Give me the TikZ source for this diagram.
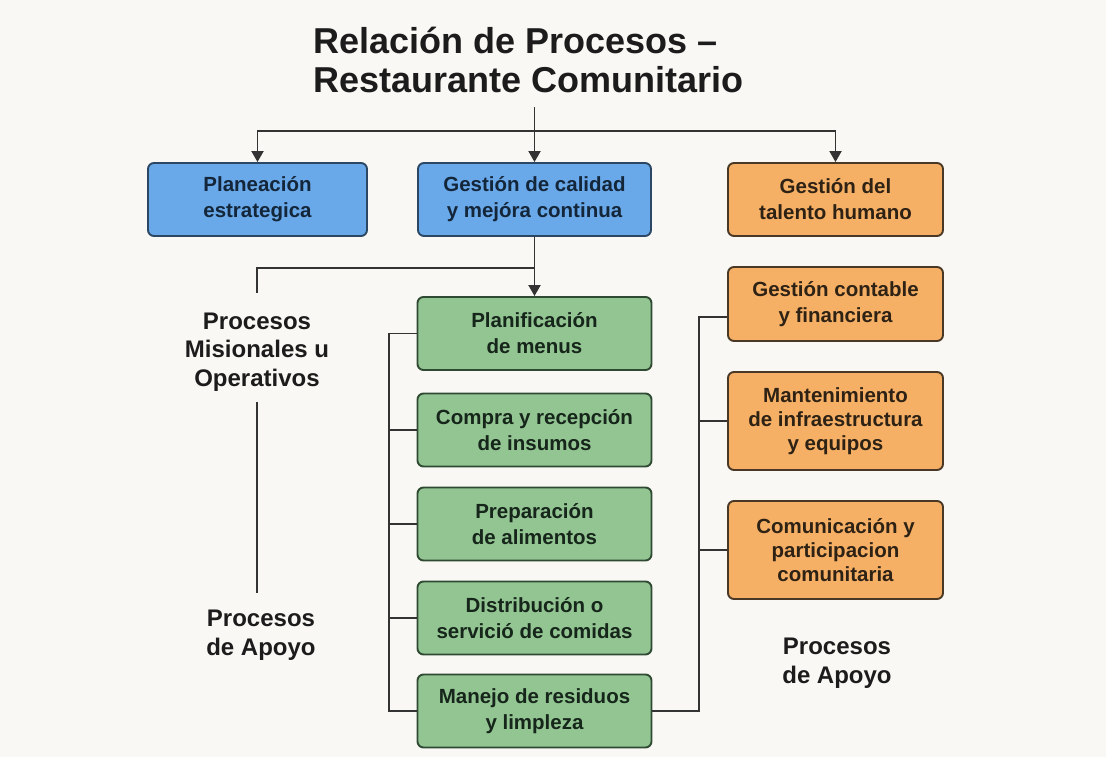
\documentclass[tikz,border=0pt]{standalone}
\usepackage{fontspec}
\setmainfont{Liberation Sans}
\usetikzlibrary{arrows.meta,calc}
\definecolor{bg}{HTML}{FAF8F4}
\definecolor{ln}{HTML}{333333}
\definecolor{bluef}{HTML}{6AA9E9}
\definecolor{blued}{HTML}{2B4763}
\definecolor{bluet}{HTML}{14263A}
\definecolor{orf}{HTML}{F6B066}
\definecolor{ord}{HTML}{4A3826}
\definecolor{ort}{HTML}{2E2215}
\definecolor{grf}{HTML}{93C593}
\definecolor{grd}{HTML}{2F4A33}
\definecolor{grt}{HTML}{16261A}
\definecolor{txt}{HTML}{1C1C1C}
\begin{document}
\begin{tikzpicture}[x=1pt,y=-1pt,
  box/.style={draw, rounded corners=6pt, line width=1.9pt, align=center, inner sep=0pt,
    font=\bfseries\fontsize{20.5}{26}\selectfont},
  bluebox/.style={box, fill=bluef, draw=blued, text=bluet, minimum height=73pt},
  orbox/.style={box, fill=orf, draw=ord, text=ort, minimum width=215pt},
  grbox/.style={box, fill=grf, draw=grd, text=grt, minimum width=234pt, minimum height=73pt},
  conn/.style={draw=ln, line width=1.9pt},
  arr/.style={conn, -{Triangle[length=11pt,width=12pt]}},
  lbl/.style={align=center, text=txt, inner sep=0pt, font=\bfseries\fontsize{24}{28.5}\selectfont},
  ttl/.style={anchor=base west, inner sep=0pt, text=txt, font=\bfseries\fontsize{36}{40}\selectfont}
]
\fill[bg] (0,0) rectangle (1106,757);
\useasboundingbox (0,0) rectangle (1106,757);

% title
\node[ttl] (t1) at (313,54) {Relación de Procesos –};
\node[ttl] (t2) at (313,93) {Restaurante Comunitario};

% top row
\node[bluebox, minimum width=219pt] (p1) at (257.5,199.5) {Planeación\\estrategica};
\node[bluebox, minimum width=233pt] (g0) at (534.5,199.5) {Gestión de calidad\\y mejóra continua};
\node[orbox, minimum height=73pt] (h1) at (835.5,199.5) {Gestión del\\talento humano};

% green column
\node[grbox] (m1) at (534.5,333.5) {Planificación\\de menus};
\node[grbox] (m2) at (534.5,430) {Compra y recepción\\de insumos};
\node[grbox] (m3) at (534.5,524) {Preparación\\de alimentos};
\node[grbox] (m4) at (534.5,618) {Distribución o\\servició de comidas};
\node[grbox] (m5) at (534.5,711) {Manejo de residuos\\y limpleza};

% orange column
\node[orbox, minimum height=74pt] (o1) at (835.5,304) {Gestión contable\\y financiera};
\node[orbox, minimum height=98pt, font=\bfseries\fontsize{20.5}{24}\selectfont] (o2) at (835.5,421) {Mantenimiento\\de infraestructura\\y equipos};
\node[orbox, minimum height=98pt, font=\bfseries\fontsize{20.5}{24}\selectfont] (o3) at (835.5,550) {Comunicación y\\participacion\\comunitaria};

% labels
\node[lbl] (pm) at (257,352) {Procesos\\Misionales u\\Operativos};
\node[lbl] (pa) at (261,635) {Procesos\\de Apoyo};
\node[lbl] (pb) at (837,663) {Procesos\\de Apoyo};

% top connectors
\coordinate (tb) at ($(g0.north)+(0,-55)$);
\coordinate (hl) at ($(g0.north)+(0,-31)$);
\draw[arr] (tb) -- (g0.north);
\draw[arr] (hl) -| (p1.north);
\draw[arr] (hl) -| (h1.north);

% quality to menus, branch to left label
\draw[arr] (g0.south) -- (m1.north);
\coordinate (br) at ($(g0.south)+(0,31)$);
\coordinate (lt) at (257,293);
\draw[conn] (br) -| (lt);
\coordinate (la) at (257,402);
\coordinate (lb) at (257,593);
\draw[conn] (la) -- (lb);

% left trunk
\coordinate (tr) at (389,0);
\draw[conn] (m1.west) -- (m1.west -| tr) -- (m5.west -| tr) -- (m5.west);
\draw[conn] (m2.west -| tr) -- (m2.west);
\draw[conn] (m3.west -| tr) -- (m3.west);
\draw[conn] (m4.west -| tr) -- (m4.west);

% right trunk
\coordinate (rt) at (699,0);
\draw[conn] (m5.east) -- (m5.east -| rt) -- ([yshift=-13pt]o1.west -| rt) -- ([yshift=-13pt]o1.west);
\draw[conn] (o2.west -| rt) -- (o2.west);
\draw[conn] (o3.west -| rt) -- (o3.west);
\end{tikzpicture}
\end{document}
